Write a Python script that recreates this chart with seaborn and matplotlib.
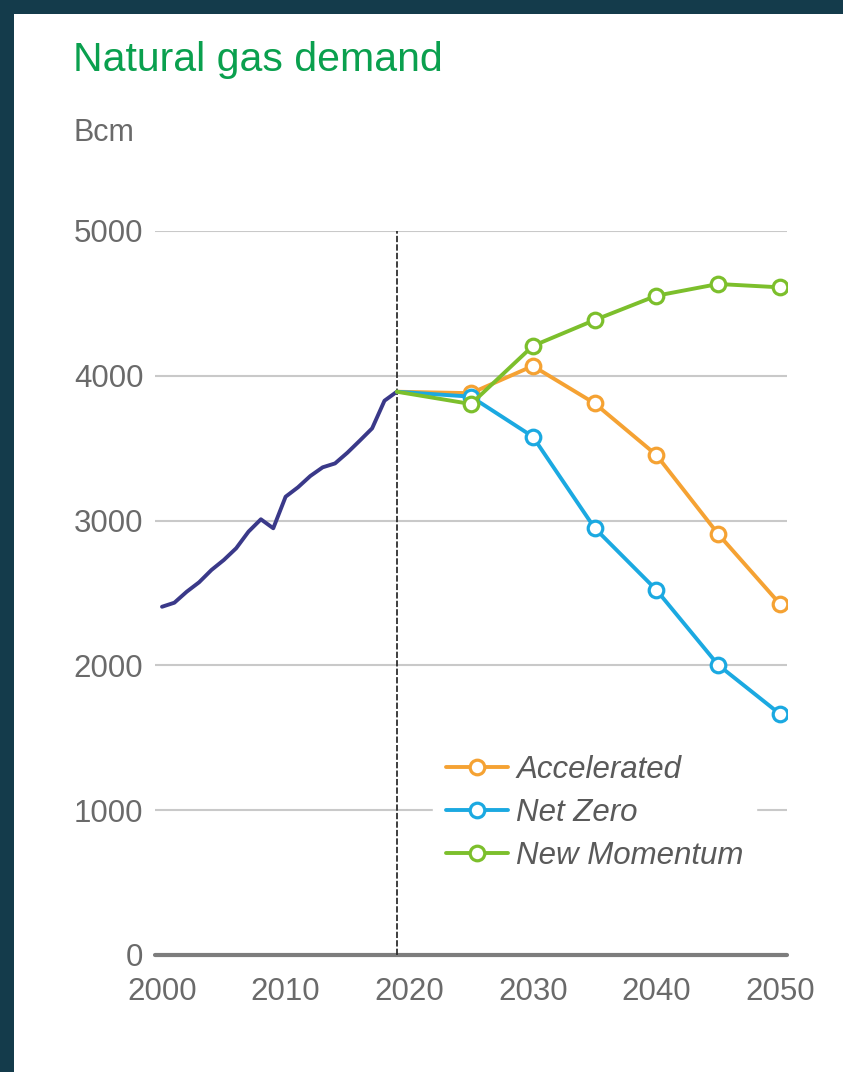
import numpy as np
import pandas as pd
import matplotlib
matplotlib.use("Agg")
import matplotlib.pyplot as plt
from matplotlib.patches import Rectangle
import seaborn as sns

# ---------------- data ----------------
hist_years = list(range(2000, 2020))
hist_values = [2405, 2433, 2509, 2574, 2659, 2728, 2809, 2924, 3009, 2947,
               3165, 3230, 3308, 3368, 3395, 3469, 3552, 3637, 3828, 3890]

scen_years = [2019, 2025, 2030, 2035, 2040, 2045, 2050]
accelerated = [3890, 3880, 4068, 3810, 3453, 2907, 2424]
net_zero = [3890, 3856, 3580, 2949, 2521, 2003, 1664]
new_momentum = [3890, 3805, 4206, 4385, 4553, 4634, 4611]

scenario_names = ["Accelerated", "Net Zero", "New Momentum"]
scenario_colors = ["#f5a233", "#1ba9e1", "#7cbf2c"]
scenario_values = [accelerated, net_zero, new_momentum]

x_ticks = [2000, 2010, 2020, 2030, 2040, 2050]
y_ticks = [0, 1000, 2000, 3000, 4000, 5000]
title = "Natural gas demand"
unit = "Bcm"

# ---------------- style ----------------
sns.set_style("white")
plt.rcParams["font.family"] = ["Liberation Sans", "DejaVu Sans"]

W, H = 843, 1072
fig = plt.figure(figsize=(W / 100, H / 100), dpi=100, facecolor="#143b4b")
fig.patches.append(Rectangle((14 / W, 0), 1, 1 - 14 / H, transform=fig.transFigure,
                             facecolor="white", edgecolor="none", zorder=-10))

left, right = 154.6 / W, 787.4 / W
bottom, top = (H - 955) / H, (H - 231) / H
ax = fig.add_axes([left, bottom, right - left, top - bottom])
ax.set_facecolor("white")

hist_df = pd.DataFrame({"year": hist_years, "value": hist_values})
sns.lineplot(data=hist_df, x="year", y="value", color="#3a3989", lw=2.8, ax=ax,
             zorder=4)

order = [0, 2, 1]  # draw order: orange, green, blue on top
lines = {}
for i in order:
    df = pd.DataFrame({"year": scen_years, "value": scenario_values[i]})
    sns.lineplot(data=df, x="year", y="value", color=scenario_colors[i], lw=2.8,
                 marker="o", markersize=10.5, markerfacecolor="white",
                 markeredgecolor=scenario_colors[i], markeredgewidth=2.3,
                 label=scenario_names[i], ax=ax, zorder=5 + i, legend=False)
    lines[i] = ax.lines[-1]

ax.axvline(2019, color="#2f2f2f", lw=1.3, ls=(0, (3.5, 1.2)), zorder=3)

ax.set_xlim(1999.4, 2050.6)
ax.set_ylim(0, 5000)
ax.set_xticks(x_ticks)
ax.set_yticks(y_ticks)
ax.set_xlabel("")
ax.set_ylabel("")
for s in ax.spines.values():
    s.set_visible(False)
ax.grid(axis="y", color="#c9c9c9", lw=1.5)
ax.grid(axis="x", visible=False)
ax.axhline(0, color="#7d7d7d", lw=3, zorder=2, clip_on=False)
ax.tick_params(axis="both", length=0, labelsize=22.5, labelcolor="#6a6a6a")
ax.tick_params(axis="y", pad=8)
ax.tick_params(axis="x", pad=16)

handles = [lines[i] for i in range(3)]
leg = ax.legend(handles, scenario_names, loc="upper left",
                bbox_to_anchor=(433 / W, 1 - 742 / H), bbox_transform=fig.transFigure,
                frameon=True, fancybox=False, framealpha=1, edgecolor="white",
                facecolor="white", borderaxespad=0, borderpad=0.4,
                handlelength=2.0, handletextpad=0.26, labelspacing=0.43,
                prop={"size": 22.5, "style": "italic"})
for t in leg.get_texts():
    t.set_color("#5a5a5a")

# hide the marker at the shared 2019 start point (after legend creation)
for i in range(3):
    lines[i].set_markevery(list(range(1, len(scen_years))))

fig.text(73 / W, 1 - 71 / H, title, color="#0aa04e", fontsize=29.5,
         ha="left", va="baseline")
fig.text(73 / W, 1 - 141 / H, unit, color="#6a6a6a", fontsize=22,
         ha="left", va="baseline")

fig.savefig("out.png", dpi=100, facecolor=fig.get_facecolor())
